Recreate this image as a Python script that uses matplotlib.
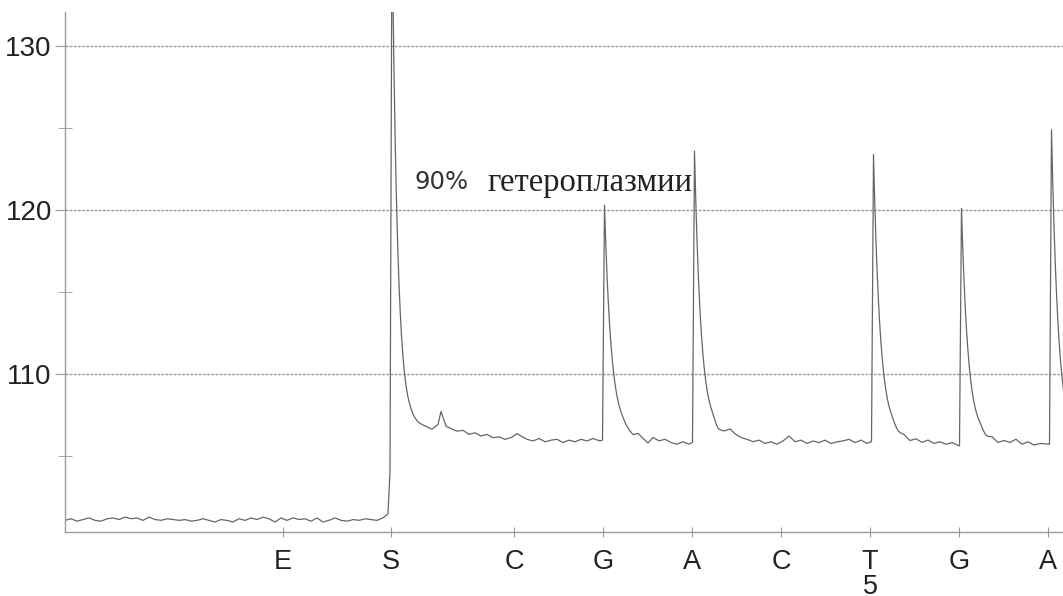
import numpy as np
import matplotlib
matplotlib.use("Agg")
import matplotlib.pyplot as plt

# Dispensation order and where each nucleotide was added on the time axis
dispensations = ["E", "S", "C", "G", "A", "C", "T\n5", "G", "A"]
dispensation_t = [283, 391, 514, 603, 692, 781, 870, 959, 1048]

# Light-signal peaks: onset time, peak height, decay constant
peak_t = [392.0, 604.5, 694.5, 873.5, 961.5, 1051.5]
peak_height = [138.0, 120.3, 123.6, 123.4, 120.1, 124.9]
peak_tau = [5.5, 7.0, 6.7, 6.8, 6.8, 6.8]

# Baseline readings along the run
base_t = [65, 71, 77, 83, 89, 95, 101, 107, 113, 119, 125, 131, 137, 143,
          149, 155, 161, 167, 173, 179, 185, 191, 197, 203, 209, 215, 221,
          227, 233, 239, 245, 251, 257, 263, 269, 275, 281, 287, 293, 299,
          305, 311, 317, 323, 329, 335, 341, 347, 353, 359, 365, 371, 377,
          383, 388,
          392, 410, 418, 425, 432, 438, 441, 446, 451, 457, 463, 469, 475,
          481, 487, 493, 499, 505, 511, 517, 521, 527, 533, 539, 545, 551,
          557, 563, 569, 575, 581, 587, 593, 600,
          622, 628, 633, 638, 643, 648, 653, 659, 665, 671, 677, 683, 689,
          712, 718, 724, 730, 735, 741, 747, 753, 759, 765, 771, 777, 783,
          789, 795, 801, 807, 813, 819, 825, 831, 837, 843, 849, 855, 861,
          867, 871,
          892, 898, 904, 910, 916, 922, 928, 934, 940, 946, 952, 959,
          980, 986, 992, 998, 1004, 1010, 1016, 1022, 1028, 1034, 1040,
          1049, 1120]
base_v = [101.05, 101.15, 101.0, 101.1, 101.2, 101.05, 101.0, 101.15,
          101.2, 101.1, 101.25, 101.15, 101.2, 101.05, 101.25, 101.1,
          101.05, 101.15, 101.1, 101.05, 101.1, 101.0, 101.05, 101.15,
          101.05, 100.95, 101.1, 101.05, 100.95, 101.15, 101.05, 101.2,
          101.1, 101.25, 101.15, 100.95, 101.2, 101.05, 101.2, 101.1,
          101.15, 101.0, 101.2, 100.95, 101.05, 101.2, 101.05, 101.0,
          101.1, 101.05, 101.15, 101.1, 101.05, 101.2, 101.45,
          106.6, 106.9, 106.8, 106.75, 106.6, 106.9, 107.7, 106.8, 106.65,
          106.5, 106.55, 106.3, 106.4, 106.2, 106.3, 106.1, 106.15, 106.0,
          106.1, 106.35, 106.2, 106.0, 105.9, 106.05, 105.85, 105.95,
          106.0, 105.8, 105.95, 105.85, 106.0, 105.9, 106.05, 105.9,
          106.35, 106.2, 106.05, 106.25, 106.0, 105.75, 106.1, 105.9,
          106.0, 105.8, 105.7, 105.85, 105.7,
          106.45, 106.15, 106.3, 106.55, 106.3, 106.1, 106.0, 105.85,
          105.95, 105.75, 105.85, 105.7, 105.9, 106.2, 105.85, 105.95,
          105.75, 105.9, 105.8, 105.95, 105.75, 105.85, 105.9, 106.0,
          105.8, 105.95, 105.75, 105.85,
          106.3, 106.05, 106.1, 105.85, 106.0, 105.8, 105.95, 105.75,
          105.85, 105.7, 105.8, 105.6,
          106.1, 105.85, 106.0, 105.75, 105.9, 105.8, 106.0, 105.7,
          105.85, 105.65, 105.75, 105.7, 105.8]

RISE = 2.0

t = np.arange(65.0, 1120.0, 0.25)
signal = np.interp(t, base_t, base_v)
for t0, h, tau in zip(peak_t, peak_height, peak_tau):
    amp = h - np.interp(t0, base_t, base_v)
    shape = np.zeros_like(t)
    up = (t >= t0 - RISE) & (t < t0)
    shape[up] = (t[up] - (t0 - RISE)) / RISE
    down = t >= t0
    shape[down] = np.exp(-(t[down] - t0) / tau)
    signal += amp * shape

W, H = 1063, 596
fig = plt.figure(figsize=(W / 100, H / 100), dpi=100)
x_lo, x_hi = 65, 1120
ax = fig.add_axes([65 / W, 64 / H, (x_hi - x_lo) / W, 520 / H])
ax.set_xlim(x_lo, x_hi)
ax.set_ylim(100.34, 132.1)

ax.plot(t, signal, color="#666666", lw=0.9)

ax.set_yticks([110, 120, 130])
ax.set_yticks([105, 115, 125], minor=True)
ax.yaxis.grid(True, which="major", color="#9a9a9a", lw=1.0,
              linestyle=(0, (2, 1)))
ax.set_axisbelow(True)

ax.set_xticks(dispensation_t)
ax.set_xticklabels(dispensations)
for lbl in ax.get_xticklabels():
    lbl.set_linespacing(0.92)
    lbl.set_verticalalignment("top")

for s in ("top", "right"):
    ax.spines[s].set_visible(False)
for s in ("left", "bottom"):
    ax.spines[s].set_color("#9a9a9a")
    ax.spines[s].set_linewidth(1.0)

font = ["Liberation Sans", "DejaVu Sans"]
ax.tick_params(axis="y", which="major", direction="out", length=7,
               color="#9a9a9a", pad=2.5, labelsize=20, labelfontfamily=font,
               labelcolor="#222222")
ax.tick_params(axis="y", which="minor", direction="inout", length=10,
               color="#9a9a9a")
ax.tick_params(axis="x", direction="inout", length=7, color="#9a9a9a",
               pad=9, labelsize=19.5, labelfontfamily=font,
               labelcolor="#222222")

ax.text(415, 121.7, "90%", fontsize=17.5, family="DejaVu Sans",
        color="#333333", va="center", ha="left")
ax.text(487, 121.7, "гетероплазмии", fontsize=23.5, family="Liberation Serif",
        color="#222222", va="center", ha="left")

fig.savefig("out.png", dpi=100)
